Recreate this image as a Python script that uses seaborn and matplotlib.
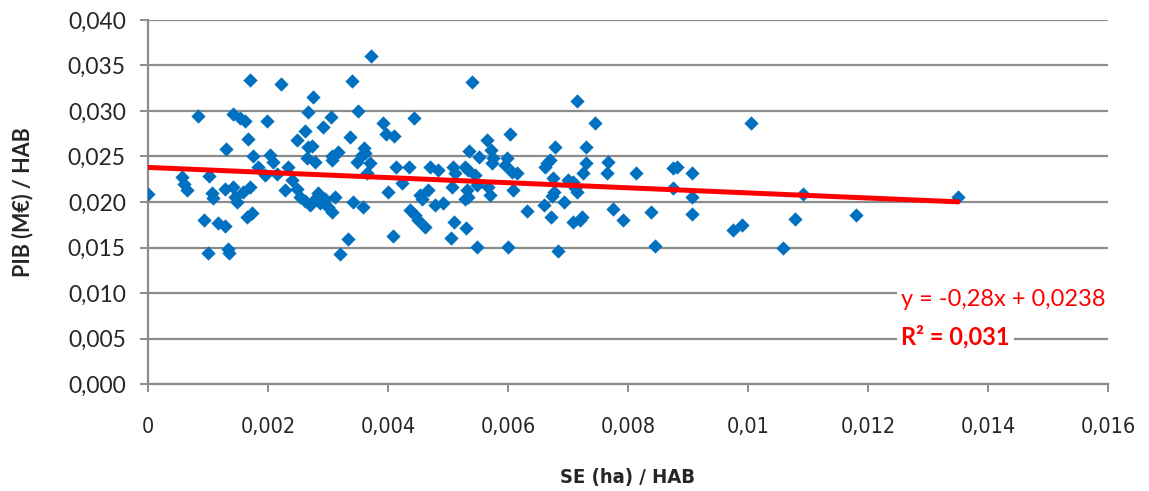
import numpy as np
import matplotlib
matplotlib.use("Agg")
import matplotlib.pyplot as plt
from matplotlib.ticker import FuncFormatter, MultipleLocator
import seaborn as sns
import pandas as pd

# SE (ha) / HAB, in thousandths
se_hab = [
    0.00, 0.83, 0.57, 0.60, 0.65, 1.02, 1.07, 1.08, 0.93, 1.17,
    1.28, 1.00, 1.33, 1.35, 1.30, 1.28, 1.42, 1.53, 1.62, 1.70,
    1.67, 1.75, 1.42, 1.45, 1.48, 1.58, 1.70, 1.65, 1.73, 1.83,
    1.95, 1.98, 2.03, 2.08, 2.15, 2.22, 2.33, 2.40, 2.48, 2.28,
    2.48, 2.62, 2.67, 2.75, 2.67, 2.73, 2.65, 2.78, 2.92, 3.05,
    3.07, 3.07, 2.53, 2.62, 2.70, 2.78, 2.87, 2.95, 3.00, 3.07,
    2.83, 3.12, 3.20, 3.33, 3.40, 3.37, 3.17, 3.42, 3.50, 3.57,
    3.62, 3.48, 3.60, 3.70, 3.65, 3.58, 3.72, 3.92, 3.97, 4.10,
    4.13, 4.00, 4.08, 4.23, 4.35, 4.43, 4.37, 4.45, 4.50, 4.62,
    4.53, 4.57, 4.67, 4.70, 4.83, 4.78, 4.92, 5.08, 5.12, 5.07,
    5.10, 5.05, 5.30, 5.28, 5.33, 5.35, 5.40, 5.45, 5.52, 5.48,
    5.32, 5.33, 5.28, 5.48, 5.65, 5.72, 5.75, 5.73, 5.67, 5.70,
    5.95, 5.98, 6.03, 6.07, 6.15, 6.08, 6.00, 6.32, 6.60, 6.62,
    6.65, 6.70, 6.78, 6.75, 6.77, 6.73, 6.72, 6.83, 6.93, 7.00,
    7.08, 7.12, 7.15, 7.08, 7.20, 7.23, 7.15, 7.25, 7.30, 7.30,
    7.45, 7.65, 7.67, 7.75, 7.92, 8.13, 8.38, 8.45, 8.75, 8.82,
    8.75, 9.07, 9.07, 9.07, 9.75, 9.90, 10.05, 10.58, 10.78, 10.92,
    11.80, 13.50,
]
# PIB (M€) / HAB, in thousandths
pib_hab = [
    20.9, 29.5, 22.7, 22.0, 21.3, 22.9, 21.0, 20.4, 18.0, 17.7,
    17.4, 14.4, 14.8, 14.4, 25.8, 21.4, 29.7, 29.2, 28.9, 33.4,
    26.9, 25.1, 21.6, 20.5, 20.0, 21.1, 21.6, 18.4, 18.8, 23.8,
    23.0, 28.9, 25.2, 24.4, 23.1, 33.0, 23.8, 22.4, 21.4, 21.3,
    26.8, 27.8, 29.9, 31.5, 26.0, 26.2, 24.8, 24.4, 28.2, 29.3,
    25.1, 24.6, 20.5, 20.1, 19.7, 20.3, 19.9, 20.3, 19.5, 18.9,
    21.0, 20.5, 14.3, 15.9, 33.3, 27.1, 25.5, 20.0, 30.0, 25.2,
    25.4, 24.4, 25.9, 24.3, 23.2, 19.5, 36.0, 28.7, 27.5, 27.3,
    23.8, 21.1, 16.3, 22.1, 23.8, 29.2, 19.1, 18.6, 18.0, 17.3,
    20.8, 20.3, 21.3, 23.8, 23.5, 19.7, 19.9, 23.8, 23.2, 21.6,
    17.8, 16.0, 17.1, 23.8, 23.5, 25.6, 33.2, 23.0, 24.9, 21.9,
    21.3, 20.5, 20.3, 15.1, 26.8, 25.7, 24.8, 24.3, 21.6, 20.8,
    24.1, 24.8, 27.5, 23.3, 23.2, 21.3, 15.1, 19.0, 19.7, 23.8,
    24.3, 24.6, 26.0, 22.6, 21.1, 20.7, 18.4, 14.6, 20.0, 22.4,
    22.2, 21.5, 21.1, 17.8, 18.0, 18.4, 31.1, 23.2, 24.3, 26.0,
    28.7, 23.2, 24.4, 19.2, 18.0, 23.2, 18.9, 15.2, 23.7, 23.8,
    21.5, 23.2, 20.5, 18.7, 16.9, 17.5, 28.7, 15.0, 18.1, 20.9,
    18.6, 20.6,
]

# trend line as printed on the chart
slope = -0.28
intercept = 0.0238
r2 = 0.031

df = pd.DataFrame({"se": np.array(se_hab) / 1000, "pib": np.array(pib_hab) / 1000})

sns.set_style("white")
plt.rcParams["font.family"] = ["Lato", "DejaVu Sans"]

fig = plt.figure(figsize=(11.49, 4.91), dpi=100)
ax = fig.add_axes([0.1288, 0.2179, 0.8355, 0.7414])

grid_col = "#8c8c8c"
ax.yaxis.grid(True, color=grid_col, lw=1.6)
ax.set_axisbelow(True)

sns.scatterplot(data=df, x="se", y="pib", ax=ax, marker="D", s=48,
                color="#0070C0", edgecolor="#0070C0", linewidth=0.3, zorder=3)

xs = np.array([df["se"].min(), df["se"].max()])
ax.plot(xs, slope * xs + intercept, color="#FF0000", lw=3.6, zorder=4)

ax.set_xlim(0, 0.016)
ax.set_ylim(0, 0.040)
ax.xaxis.set_major_locator(MultipleLocator(0.002))
ax.yaxis.set_major_locator(MultipleLocator(0.005))
ax.xaxis.set_major_formatter(FuncFormatter(lambda v, p: f"{round(v, 4):g}".replace(".", ",")))
ax.yaxis.set_major_formatter(FuncFormatter(lambda v, p: f"{v:.3f}".replace(".", ",")))

for s in ["top", "right"]:
    ax.spines[s].set_visible(False)
for s in ["left", "bottom"]:
    ax.spines[s].set_color(grid_col)
    ax.spines[s].set_linewidth(1.6)

ax.tick_params(axis="y", direction="out", length=6, width=1.4, color=grid_col,
               pad=10, labelsize=16.5, left=True)
ax.tick_params(axis="x", direction="out", length=6, width=1.4, color=grid_col,
               pad=18, labelsize=16, bottom=True)
for lab in ax.get_xticklabels():
    lab.set_family("DejaVu Sans")
    lab.set_stretch("condensed")
    lab.set_fontsize(15.5)

ax.set_xlabel("SE (ha) / HAB", fontsize=14.5, fontweight="bold", family="DejaVu Sans",
              fontstretch="condensed", va="center")
ax.xaxis.set_label_coords(0.5, -0.258)
ax.set_ylabel("PIB (M€) / HAB", fontsize=15.5, fontweight="bold", va="center")
ax.yaxis.set_label_coords(-0.131, 0.5)

ax.text(0.01255, 0.0093, f"y = {slope:.2f}x + {intercept:.4f}".replace(".", ","),
        color="#FF0000", fontsize=17, va="center", ha="left", zorder=5,
        bbox=dict(facecolor="white", edgecolor="none", pad=3))
ax.text(0.01255, 0.0052, f"R² = {r2:.3f}".replace(".", ","),
        color="#FF0000", fontsize=17, fontweight="bold", va="center", ha="left", zorder=5,
        bbox=dict(facecolor="white", edgecolor="none", pad=3))

fig.savefig("out.png", dpi=100)
